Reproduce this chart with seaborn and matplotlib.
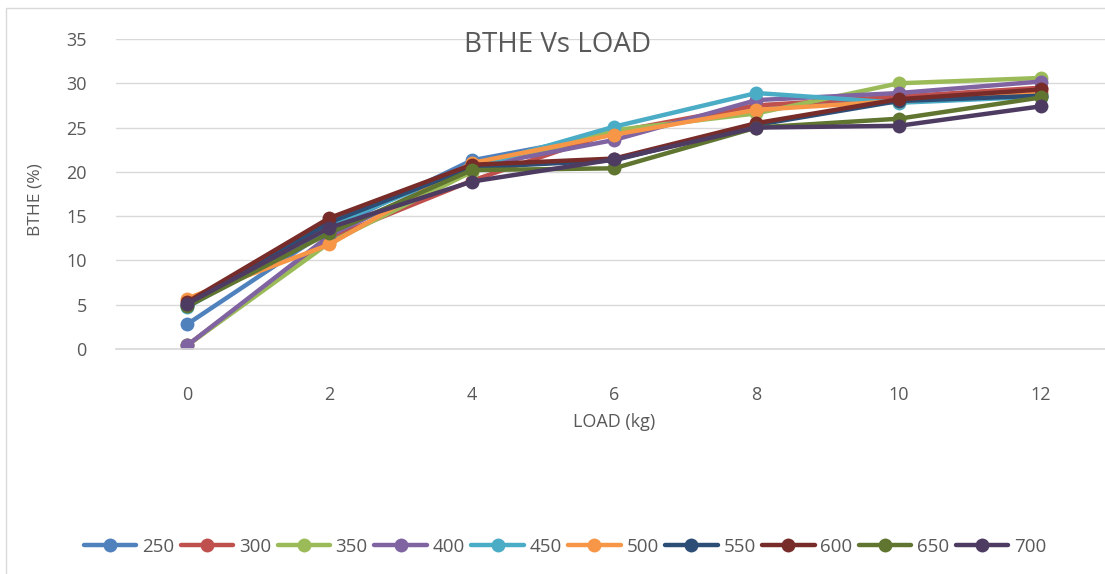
import matplotlib
matplotlib.use("Agg")
import matplotlib.pyplot as plt
import seaborn as sns
import pandas as pd
from matplotlib.patches import Rectangle

loads = [0, 2, 4, 6, 8, 10, 12]
series_names = ["250", "300", "350", "400", "450", "500", "550", "600", "650", "700"]
s250 = [2.8, 13.5, 21.3, 24.3, 27.5, 28.0, 28.8]
s300 = [0.4, 12.5, 19.0, 24.5, 27.5, 28.5, 29.5]
s350 = [0.4, 12.0, 20.0, 24.7, 26.6, 30.0, 30.6]
s400 = [0.4, 12.8, 20.5, 23.6, 28.1, 28.9, 30.2]
s450 = [4.7, 14.0, 20.5, 25.1, 28.9, 27.8, 28.5]
s500 = [5.7, 11.8, 21.0, 24.2, 27.0, 28.0, 29.0]
s550 = [5.0, 14.3, 20.5, 21.3, 25.3, 28.0, 28.6]
s600 = [5.3, 14.8, 20.8, 21.5, 25.5, 28.2, 29.3]
s650 = [4.8, 13.1, 20.2, 20.4, 25.0, 26.0, 28.4]
s700 = [5.1, 13.7, 18.9, 21.4, 25.0, 25.2, 27.4]
all_series = [s250, s300, s350, s400, s450, s500, s550, s600, s650, s700]
colors = ["#4F81BD", "#C0504D", "#9BBB59", "#8064A2", "#4BACC6",
          "#F79646", "#2C4D75", "#772C2A", "#5F7530", "#4D3B62"]

rows = []
for name, vals in zip(series_names, all_series):
    for x, y in zip(loads, vals):
        rows.append({"load": x, "bthe": y, "series": name})
df = pd.DataFrame(rows)

sns.set_theme(style="white")
plt.rcParams["font.family"] = ["Open Sans", "DejaVu Sans"]
txt = "#595959"

fig = plt.figure(figsize=(11.05, 5.74), dpi=100)
ax = fig.add_axes([116/1105, 1-349/574, 1-116/1105, (349-39)/574])

sns.lineplot(data=df, x="load", y="bthe", hue="series", hue_order=series_names,
             palette=colors, marker="o", markersize=10, markeredgewidth=0,
             linewidth=3.2, ax=ax, legend=False, sort=False)

ax.set_xlim(-1, 12 + (1105-1041)/71.17)
ax.set_ylim(0, 35)
ax.set_xticks(loads)
ax.set_yticks(range(0, 36, 5))
ax.grid(axis="y", color="#D9D9D9", linewidth=1)
ax.set_axisbelow(True)
for sp in ["top", "right", "left"]:
    ax.spines[sp].set_visible(False)
ax.spines["bottom"].set_color("#D9D9D9")
ax.tick_params(axis="x", length=0, pad=27, labelsize=13, labelcolor=txt)
ax.tick_params(axis="y", length=0, pad=21, labelsize=13, labelcolor=txt)
ax.set_xlabel("")
ax.set_ylabel("")

fig.text(35/1105, 1-200/574, "BTHE (%)", rotation=90, ha="center", va="center",
         fontsize=12.5, color=txt)
fig.text(614/1105, 1-422/574, "LOAD (kg)", ha="center", va="center",
         fontsize=13, color=txt)
fig.text(558/1105, 1-45/574, "BTHE Vs LOAD", ha="center", va="center",
         fontsize=20, color=txt)

handles = [plt.Line2D([], [], color=c, marker="o", markersize=10, markeredgewidth=0,
                      linewidth=3.2) for c in colors]
fig.legend(handles, series_names, loc="center", bbox_to_anchor=(565/1105, 1-547/574),
           ncol=10, frameon=False, fontsize=13.5, handlelength=2.8, handletextpad=0.3,
           columnspacing=0.35, labelcolor=txt)

fig.patches.append(Rectangle((6/1105, -0.02), 1.1, 1-8/574+0.02, transform=fig.transFigure,
                             fill=False, edgecolor="#D9D9D9", linewidth=1))

fig.savefig("out.png", dpi=100)
